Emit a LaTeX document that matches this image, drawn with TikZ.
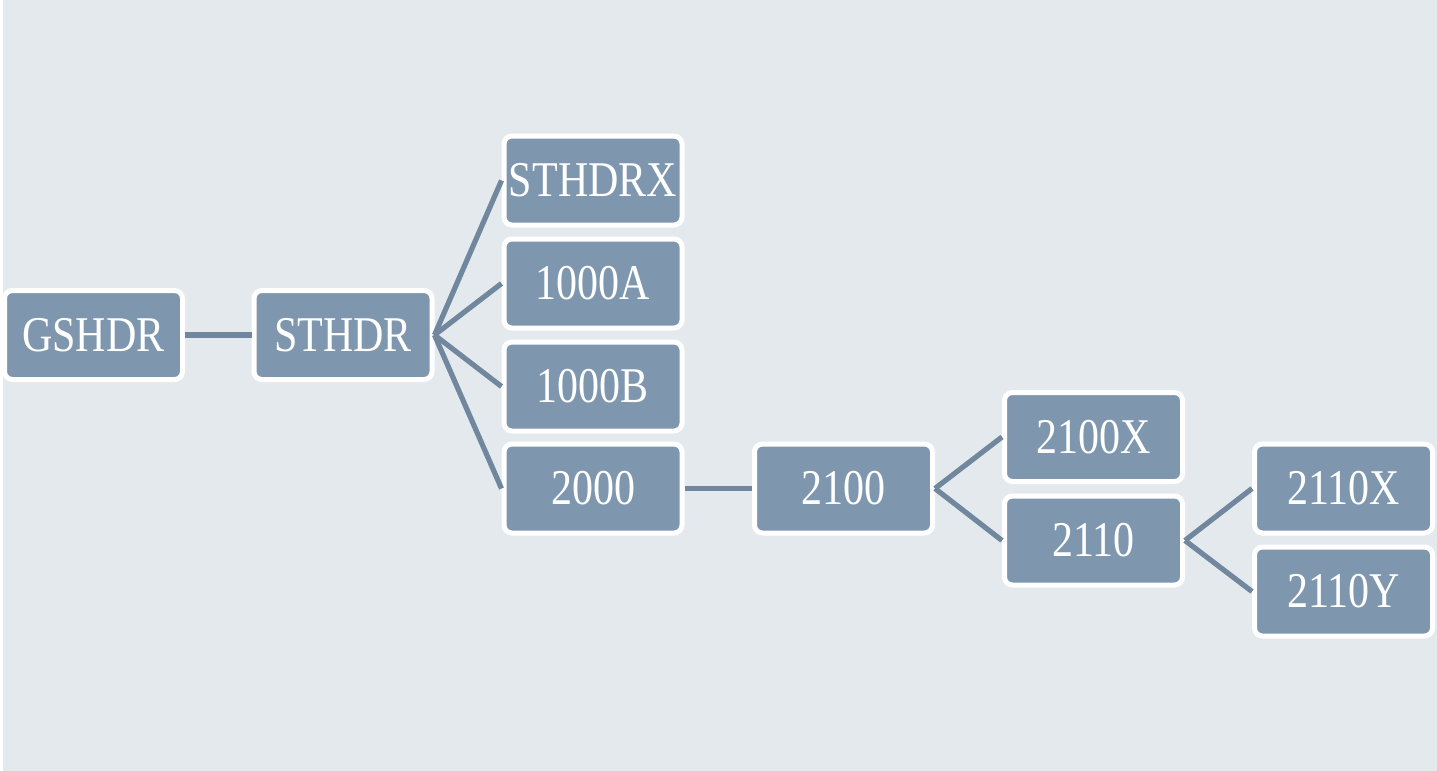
\documentclass[tikz,border=0pt]{standalone}
\usepackage{fontspec}
\setmainfont{Liberation Serif}[FakeStretch=0.84]
\usepackage{tikz}
\usetikzlibrary{positioning}
\definecolor{PanelGray}{RGB}{228,233,238}
\definecolor{BoxSlate}{RGB}{127,151,174}
\definecolor{LinkSlate}{RGB}{112,135,157}

\begin{document}
\begin{tikzpicture}[x=0.5pt,y=-0.5pt,
  seg/.style={draw=white,fill=BoxSlate,line width=2.5pt,rounded corners=4pt,
    minimum width=89pt,minimum height=44.5pt,inner sep=0pt,
    text=white,font=\fontsize{25}{28}\selectfont},
  link/.style={draw=LinkSlate,line width=2.6pt}]
  \useasboundingbox (0,0) rectangle (1437,771);
  \fill[PanelGray] (3,0) rectangle (1437,771);

  \node[seg] (gshdr) at (93.5,335) {GSHDR};
  \node[seg] (sthdr) at (343,335) {STHDR};
  \node[seg] (sthdrx) at (593,180.5) {STHDRX};
  \node[seg] (s1000a) at (593,283.5) {1000A};
  \node[seg] (s1000b) at (593,386.5) {1000B};
  \node[seg] (s2000) at (593,488.5) {2000};
  \node[seg] (s2100) at (843.5,488.5) {2100};
  \node[seg] (s2100x) at (1093.5,437) {2100X};
  \node[seg] (s2110) at (1093.5,540.5) {2110};
  \node[seg] (s2110x) at (1343.5,488.5) {2110X};
  \node[seg] (s2110y) at (1343.5,591.5) {2110Y};

  % connectors
  \draw[link] (gshdr.east) -- (sthdr.west);
  \foreach \kid in {sthdrx,s1000a,s1000b,s2000}
    \draw[link] (sthdr.east) -- (\kid.west);
  \draw[link] (s2000.east) -- (s2100.west);
  \draw[link] (s2100.east) -- (s2100x.west);
  \draw[link] (s2100.east) -- (s2110.west);
  \draw[link] (s2110.east) -- (s2110x.west);
  \draw[link] (s2110.east) -- (s2110y.west);
\end{tikzpicture}
\end{document}
